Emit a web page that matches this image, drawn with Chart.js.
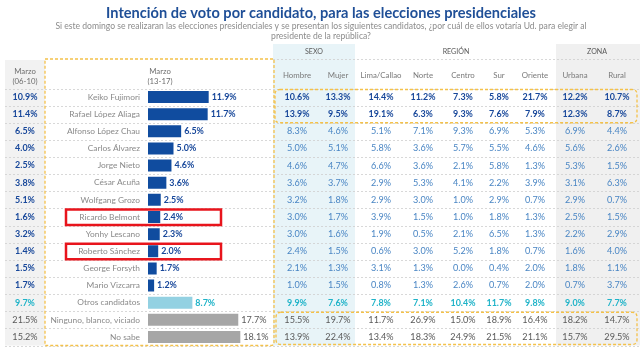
<!DOCTYPE html>
<html><head><meta charset="utf-8">
<script src="https://cdn.jsdelivr.net/npm/chart.js@4/dist/chart.umd.min.js"></script>
<style>html,body{margin:0;padding:0;background:#fff;overflow:hidden}canvas{display:block}</style>
</head><body>
<canvas id="c" width="640" height="350"></canvas>
<script>
// ---------- DATA ----------
const candidates = ["Keiko Fujimori","Rafael López Aliaga","Alfonso López Chau","Carlos Álvarez","Jorge Nieto","César Acuña","Wolfgang Grozo","Ricardo Belmont","Yonhy Lescano","Roberto Sánchez","George Forsyth","Mario Vizcarra","Otros candidatos","Ninguno, blanco, viciado","No sabe"];
const marzo0610 = [10.9,11.4,6.5,4.0,2.5,3.8,5.1,1.6,3.2,1.4,1.5,1.7,9.7,21.5,15.2];
const marzo1317 = [11.9,11.7,6.5,5.0,4.6,3.6,2.5,2.4,2.3,2.0,1.7,1.2,8.7,17.7,18.1];
const groupLabels = ["SEXO","REGIÓN","ZONA"];
const segmentLabels = ["Hombre","Mujer","Lima/Callao","Norte","Centro","Sur","Oriente","Urbana","Rural"];
const hombre  = [10.6,13.9,8.3,5.0,4.6,3.6,3.2,3.0,3.0,2.4,2.1,1.0,9.9,15.5,13.9];
const mujer   = [13.3,9.5,4.6,5.1,4.7,3.7,1.8,1.7,1.6,1.5,1.3,1.5,7.6,19.7,22.4];
const lima    = [14.4,19.1,5.1,5.8,6.6,2.9,2.9,3.9,1.9,0.6,3.1,0.8,7.8,11.7,13.4];
const norte   = [11.2,6.3,7.1,3.6,3.6,5.3,3.0,1.5,0.5,3.0,1.3,1.3,7.1,26.9,18.3];
const centro  = [7.3,9.3,9.3,5.7,2.1,4.1,1.0,1.0,2.1,5.2,0.0,2.6,10.4,15.0,24.9];
const sur     = [5.8,7.6,6.9,5.5,5.8,2.2,2.9,1.8,6.5,1.8,0.4,0.7,11.7,18.9,21.5];
const oriente = [21.7,7.9,5.3,4.6,1.3,3.9,0.7,1.3,1.3,0.7,2.0,2.0,9.8,16.4,21.1];
const urbana  = [12.2,12.3,6.9,5.6,5.3,3.1,2.9,2.5,2.2,1.6,1.8,0.7,9.0,18.2,15.7];
const rural   = [10.7,8.7,4.4,2.6,1.5,6.3,0.7,1.5,2.9,4.0,1.1,3.7,7.7,14.7,29.5];
const segmentColumns = [hombre,mujer,lima,norte,centro,sur,oriente,urbana,rural];
const highlighted = ["Ricardo Belmont","Roberto Sánchez"];
const titleText = "Intención de voto por candidato, para las elecciones presidenciales";
const subtitleLines = ["Si este domingo se realizaran las elecciones presidenciales y se presentan los siguientes candidatos, ¿por cuál de ellos votaría Ud. para elegir al","presidente de la república?"];

// ---------- LAYOUT / STYLE ----------
const FAM = "Lato, 'Open Sans', sans-serif";
const colX = [297,338,381,423,463,499,535,575,617];
const groupX = [314,456,597];
const DARK = '#17479a', MID = '#4a86c4', TEAL = '#1fb3c8', GRAY = '#595959', LGRAY = '#8a8a8a';
function rowKind(i){ return i < 2 ? 'top' : (i < 12 ? 'cand' : (i === 12 ? 'otros' : 'none')); }
const barColors = candidates.map((c,i)=>{const k=rowKind(i); return k==='otros' ? '#93d1e2' : (k==='none' ? '#a6a6a6' : '#104c9f');});

const cv = document.getElementById('c');
const ctx = cv.getContext('2d');
function fit(text, weight, target){ ctx.font = weight + ' 100px ' + FAM; return 100*target/ctx.measureText(text).width; }
const fs = {
  title: fit(titleText,'bold',430),
  sub: fit(subtitleLines[0],'normal',532),
  name: fit("Rafael López Aliaga",'normal',71),
  numB: fit("10.6%",'bold',25),
  num: fit("8.3%",'normal',20),
  head: fit("Lima/Callao",'normal',41),
  marzo: fit("(06-10)",'normal',25),
  group: fit("SEXO",'normal',18)
};
function txt(c, s, x, y, size, weight, color, align){
  c.font = weight + ' ' + size.toFixed(2) + 'px ' + FAM;
  c.fillStyle = color; c.textAlign = align || 'center'; c.textBaseline = 'middle';
  c.fillText(s, x, y);
}
function rrect(c,x,y,w,h,r){
  c.beginPath(); c.moveTo(x+r,y); c.lineTo(x+w-r,y); c.quadraticCurveTo(x+w,y,x+w,y+r);
  c.lineTo(x+w,y+h-r); c.quadraticCurveTo(x+w,y+h,x+w-r,y+h); c.lineTo(x+r,y+h);
  c.quadraticCurveTo(x,y+h,x,y+h-r); c.lineTo(x,y+r); c.quadraticCurveTo(x,y,x+r,y); c.closePath();
}
const fmt = v => v.toFixed(1) + '%';

const tablePlugin = {
  id: 'table',
  beforeDatasetsDraw(chart){
    const c = chart.ctx, ys = chart.scales.y;
    const n = candidates.length;
    const band = (ys.getPixelForValue(1) - ys.getPixelForValue(0));
    const top = ys.getPixelForValue(0) - band/2, bot = ys.getPixelForValue(n-1) + band/2;
    c.save();
    c.fillStyle = '#f2f2f2'; c.fillRect(5, 60, 40, bot-60);
    c.fillStyle = '#e8f4f8'; c.fillRect(273, 44, 82, bot-44);
    c.fillStyle = '#f0f0f0'; c.fillRect(556, 44, 84, bot-44);
    txt(c, titleText, 321, 13, fs.title, 'bold', '#1f4f97');
    txt(c, subtitleLines[0], 321, 26, fs.sub, 'normal', '#8c8c8c');
    txt(c, subtitleLines[1], 321, 36, fs.sub, 'normal', '#8c8c8c');
    groupLabels.forEach((g,i)=>txt(c, g, groupX[i], 52, fs.group, 'normal', GRAY));
    txt(c, 'Marzo', 25, 71, fs.marzo, 'normal', '#6e6e6e');
    txt(c, '(06-10)', 25, 81, fs.marzo, 'normal', '#6e6e6e');
    txt(c, 'Marzo', 160, 71, fs.marzo, 'normal', '#6e6e6e');
    txt(c, '(13-17)', 160, 81, fs.marzo, 'normal', '#6e6e6e');
    segmentLabels.forEach((s,i)=>txt(c, s, colX[i], 75, fs.head, 'normal', '#7a7a7a'));
    c.strokeStyle = '#cfcfcf'; c.lineWidth = 0.8; c.setLineDash([2,2]);
    c.beginPath(); c.moveTo(273, 59.5); c.lineTo(640, 59.5); c.stroke();
    for (let i=0;i<=n;i++){
      const y = Math.round(top + i*band) + 0.5;
      c.beginPath(); c.moveTo(5, y); c.lineTo(640, y); c.stroke();
    }
    c.restore();
  },
  afterDatasetsDraw(chart){
    const c = chart.ctx, ys = chart.scales.y;
    const meta = chart.getDatasetMeta(0);
    c.save();
    candidates.forEach((name,i)=>{
      const y = ys.getPixelForValue(i);
      const k = rowKind(i);
      const bold = k !== 'none';
      const col = k==='otros' ? TEAL : (k==='none' ? GRAY : DARK);
      txt(c, fmt(marzo0610[i]), 25, y, bold?fs.numB:fs.num, bold?'bold':'normal', col);
      txt(c, name, 140, y, fs.name, 'normal', LGRAY, 'right');
      const bar = meta.data[i];
      txt(c, fmt(marzo1317[i]), bar.x + 3, y, bold?fs.numB:fs.num, bold?'bold':'normal', col, 'left');
      segmentColumns.forEach((arr,j)=>{
        let color = MID, w = 'normal', sz = fs.num;
        if (k==='top'){ color = DARK; w='bold'; sz = fs.numB; }
        else if (k==='otros'){ color = TEAL; w='bold'; sz = fs.numB; }
        else if (k==='none'){ color = GRAY; }
        txt(c, fmt(arr[i]), colX[j], y, sz, w, color);
      });
    });
    const band = ys.getPixelForValue(1) - ys.getPixelForValue(0);
    const y0 = ys.getPixelForValue(0) - band/2, y2 = ys.getPixelForValue(1) + band/2;
    const y13 = ys.getPixelForValue(13) - band/2, y15 = ys.getPixelForValue(14) + band/2;
    c.strokeStyle = '#f4c14a'; c.lineWidth = 1.3; c.setLineDash([3,2]);
    c.beginPath(); c.moveTo(45,59); c.lineTo(274,59); c.lineTo(274,y15-3); c.quadraticCurveTo(274,y15,271,y15); c.lineTo(45,y15); c.closePath(); c.stroke();
    rrect(c, 275, y0+1, 362, y2-y0-1, 5); c.stroke();
    rrect(c, 276, y13+1, 361, y15-y13-2, 5); c.stroke();
    c.setLineDash([]); c.strokeStyle = '#e8141c'; c.lineWidth = 2.5;
    highlighted.forEach(h=>{
      const i = candidates.indexOf(h); const y = ys.getPixelForValue(i);
      c.strokeRect(66, y-7.5, 155, 15.5);
    });
    c.restore();
  }
};

new Chart(ctx, {
  type: 'bar',
  data: { labels: candidates, datasets: [{ data: marzo1317, backgroundColor: barColors, borderWidth: 0, barPercentage: 0.7, categoryPercentage: 1 }] },
  options: {
    indexAxis: 'y', responsive: false, animation: false, devicePixelRatio: 1,
    layout: { padding: { left: 148, right: 339, top: 88.5, bottom: 4.5 } },
    scales: { x: { display: false, min: 0, max: 30 }, y: { display: false } },
    plugins: { legend: { display: false }, tooltip: { enabled: false }, title: { display: false } }
  },
  plugins: [tablePlugin]
});
</script>
</body></html>
